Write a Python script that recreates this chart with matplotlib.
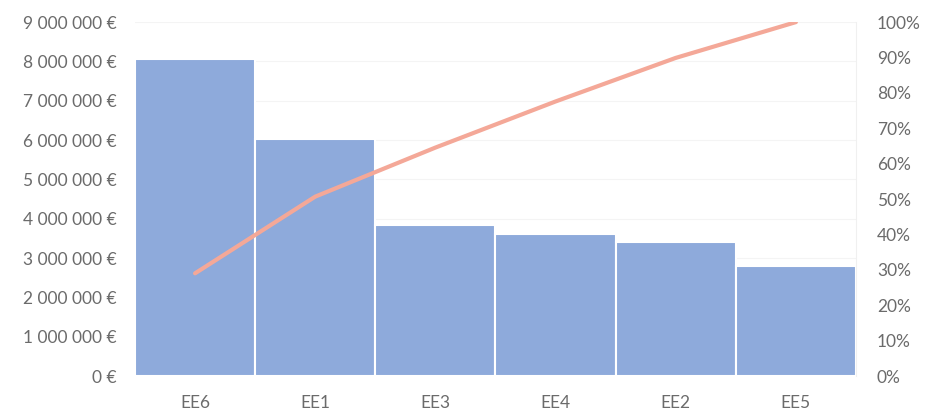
import matplotlib
matplotlib.use("Agg")
import matplotlib.pyplot as plt
import numpy as np

categories = ["EE6", "EE1", "EE3", "EE4", "EE2", "EE5"]
amounts = [8060000, 6020000, 3850000, 3620000, 3420000, 2810000]

cum_pct = np.cumsum(amounts) / np.sum(amounts) * 100

plt.rcParams['font.family'] = ['Lato', 'DejaVu Sans']
txt = '#6b6b6b'

fig = plt.figure(figsize=(9.27, 4.17), dpi=100)
ax = fig.add_axes([0.1456, 0.0983, 0.7778, 0.8487])
x = np.arange(len(categories))
ax.bar(x, amounts, width=1.0, color='#8eaadb', edgecolor='white', linewidth=1.5, zorder=2)
ax.set_xlim(-0.5, 5.5)
ax.set_ylim(0, 9000000)
ax.set_yticks(np.arange(0, 9000001, 1000000))
ax.set_yticklabels([("{:,}".format(v)).replace(',', ' ') + " €" for v in range(0, 9000001, 1000000)])
ax.set_xticks(x)
ax.set_xticklabels(categories)
ax.grid(axis='y', color='#f4f4f4', linewidth=0.8, zorder=0)
for s in ax.spines.values():
    s.set_visible(False)
ax.tick_params(length=0, colors=txt, labelsize=12.5)
ax.tick_params(axis='y', pad=13)
ax.tick_params(axis='x', pad=14)

ax2 = ax.twinx()
ax2.plot(x, cum_pct, color='#f4a898', linewidth=3.0, solid_capstyle='round', zorder=3)
ax2.set_ylim(0, 100)
ax2.set_yticks(np.arange(0, 101, 10))
ax2.set_yticklabels([f"{v}%" for v in range(0, 101, 10)])
for s in ax2.spines.values():
    s.set_visible(False)
ax2.spines['right'].set_visible(True)
ax2.spines['right'].set_color('#f0f0f0')
ax2.tick_params(length=0, colors=txt, labelsize=12.5, pad=15)

fig.savefig("out.png", dpi=100)
